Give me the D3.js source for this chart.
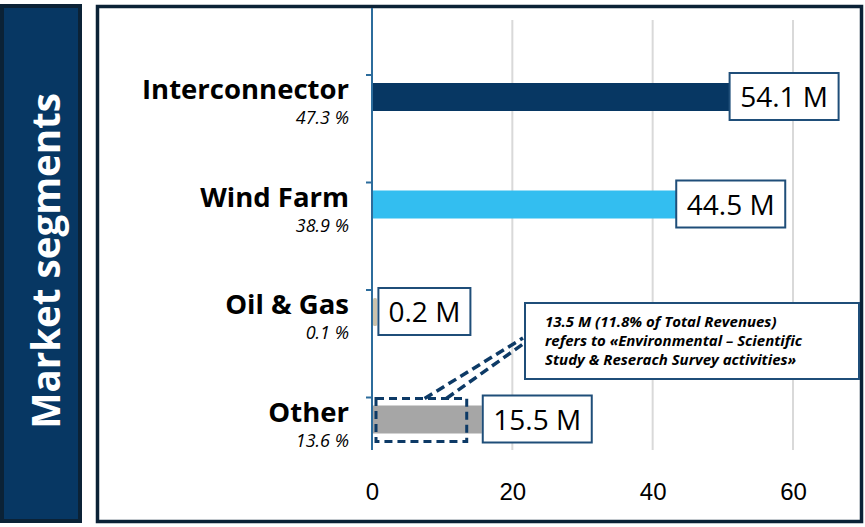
<!DOCTYPE html>
<meta charset="utf-8">
<script src="https://d3js.org/d3.v7.min.js"></script>
<style>
  body { margin: 0; background: #fff; }
  .cat { font-family: "Open Sans", sans-serif; font-weight: 700; font-size: 27.5px; fill: #000; }
  .pct { font-family: "Open Sans", sans-serif; font-style: italic; font-size: 18px; fill: #000; }
  .val { font-family: "Open Sans", sans-serif; font-size: 28px; fill: #000; }
  .tick text { font-family: "Liberation Sans", Arial, sans-serif; font-size: 24px; fill: #000; }
  .note { font-family: "Open Sans", sans-serif; font-weight: 700; font-style: italic; font-size: 15px; fill: #000; }
</style>
<div id="chart"></div>
<script>

// data
const categories = ["Interconnector", "Wind Farm", "Oil & Gas", "Other"];
const values = [54.1, 44.5, 0.2, 15.5];
const shares = ["47.3 %", "38.9 %", "0.1 %", "13.6 %"];
const xTicks = [0, 20, 40, 60];
const calloutValue = 13.5;
const calloutText = [
  "13.5 M (11.8% of Total Revenues)",
  "refers to «Environmental – Scientific",
  "Study & Reserach Survey activities»"
];
const yTitle = "Market segments";

const colors = ["#073763", "#33bef0", "#cbc3ad", "#a6a6a6"];
const navy = "#0d3a66";
const boxStroke = "#1f4e79";

var W = 865, H = 527;
var svg = d3.select("#chart").append("svg")
    .attr("width", W)
    .attr("height", H);

// left title panel
svg.append("rect")
    .attr("x", 2).attr("y", 6).attr("width", 78).attr("height", 515)
    .attr("fill", "#073763")
    .attr("stroke", "#0b2236").attr("stroke-width", 4);
svg.append("text")
    .attr("transform", "translate(60,261) rotate(-90)")
    .attr("text-anchor", "middle")
    .style("font-family", "'Open Sans', sans-serif")
    .style("font-weight", 700)
    .style("font-size", "38.5px")
    .style("fill", "#fff")
    .text(yTitle);

// main panel frame
svg.append("rect")
    .attr("x", 97.5).attr("y", 6.5).attr("width", 764).attr("height", 515)
    .attr("fill", "#fff")
    .attr("stroke", "#0b2236").attr("stroke-width", 3.5);

// scales
var x = d3.scaleLinear().domain([0, 60]).range([372, 793]);
var y = d3.scaleBand().domain(categories).range([20, 450]);
var barOff = 63, barH = 28;
function mid(c) { return y(c) + barOff + barH / 2; }

// gridlines
svg.append("g").selectAll("line")
    .data(xTicks.filter(function(d) { return d > 0; }))
    .enter().append("line")
      .attr("x1", function(d) { return x(d); })
      .attr("x2", function(d) { return x(d); })
      .attr("y1", 20).attr("y2", 450)
      .attr("stroke", "#d9d9d9").attr("stroke-width", 2);

// x axis (labels only)
var xAxis = svg.append("g")
    .attr("transform", "translate(0,475)")
    .call(d3.axisBottom(x).tickValues(xTicks).tickSize(0).tickPadding(8).tickFormat(d3.format("d")));
xAxis.select(".domain").remove();

// y axis line + ticks
svg.append("line")
    .attr("x1", x(0)).attr("x2", x(0))
    .attr("y1", 8).attr("y2", 450)
    .attr("stroke", "#2c6c9c").attr("stroke-width", 2);
svg.append("g").selectAll("line")
    .data(categories)
    .enter().append("line")
      .attr("x1", x(0) - 6).attr("x2", x(0))
      .attr("y1", function(c) { return y(c) + 55; })
      .attr("y2", function(c) { return y(c) + 55; })
      .attr("stroke", "#2c6c9c").attr("stroke-width", 2);

// bars (tiny values kept visible as a sliver past the axis line)
svg.append("g").selectAll("rect")
    .data(categories)
    .enter().append("rect")
      .attr("x", x(0) + 1)
      .attr("y", function(c) { return y(c) + barOff; })
      .attr("width", function(c, i) { return Math.max(x(values[i]) - x(0), 4); })
      .attr("height", barH)
      .attr("rx", function(c, i) { return values[i] < 1 ? 1.5 : 0; })
      .attr("fill", function(c, i) { return colors[i]; });

// category labels
svg.append("g").selectAll("text")
    .data(categories)
    .enter().append("text")
      .attr("class", "cat")
      .attr("x", 349)
      .attr("y", function(c) { return mid(c) + 2; })
      .attr("text-anchor", "end")
      .text(function(c) { return c; });
svg.append("g").selectAll("text")
    .data(categories)
    .enter().append("text")
      .attr("class", "pct")
      .attr("x", 349)
      .attr("y", function(c) { return mid(c) + 27; })
      .attr("text-anchor", "end")
      .text(function(c, i) { return shares[i]; });

// callout: dashed box around part of "Other"
var oy = mid("Other");
svg.append("rect")
    .attr("x", x(0) + 4).attr("y", oy - 21)
    .attr("width", x(calloutValue) - x(0) - 4).attr("height", 43)
    .attr("fill", "none")
    .attr("stroke", navy).attr("stroke-width", 3)
    .attr("stroke-dasharray", "8,5");

// value boxes
var shift = [-22, -8, 5, 2];
var vg = svg.append("g").selectAll("g")
    .data(categories)
    .enter().append("g")
      .attr("transform", function(c, i) { return "translate(" + (x(values[i]) + shift[i]) + "," + (mid(c) - 24) + ")"; });
vg.append("rect")
    .attr("width", function(c, i) { return values[i] < 1 ? 92 : 109; })
    .attr("height", 47)
    .attr("fill", "#fff")
    .attr("stroke", boxStroke).attr("stroke-width", 2);
vg.append("text")
    .attr("class", "val")
    .attr("x", function(c, i) { return (values[i] < 1 ? 92 : 109) / 2; })
    .attr("y", 34)
    .attr("text-anchor", "middle")
    .text(function(c, i) { return d3.format(".1f")(values[i]) + " M"; });

// callout leader lines
var bx = 525, by = 303;
svg.append("path")
    .attr("d", "M" + x(7.5) + "," + (oy - 21) + "L" + (bx - 2) + "," + (by + 35))
    .attr("stroke", navy).attr("stroke-width", 3.5).attr("fill", "none")
    .attr("stroke-dasharray", "9,5");
svg.append("path")
    .attr("d", "M" + x(10.6) + "," + (oy - 21) + "L" + (bx - 2) + "," + (by + 41))
    .attr("stroke", navy).attr("stroke-width", 3.5).attr("fill", "none")
    .attr("stroke-dasharray", "9,5");

// callout box
svg.append("rect")
    .attr("x", bx).attr("y", by).attr("width", 334).attr("height", 76)
    .attr("fill", "#fff")
    .attr("stroke", boxStroke).attr("stroke-width", 2);
svg.append("g").selectAll("text")
    .data(calloutText)
    .enter().append("text")
      .attr("class", "note")
      .attr("x", bx + 20)
      .attr("y", function(d, i) { return by + 24 + i * 19; })
      .text(function(d) { return d; });

</script>
